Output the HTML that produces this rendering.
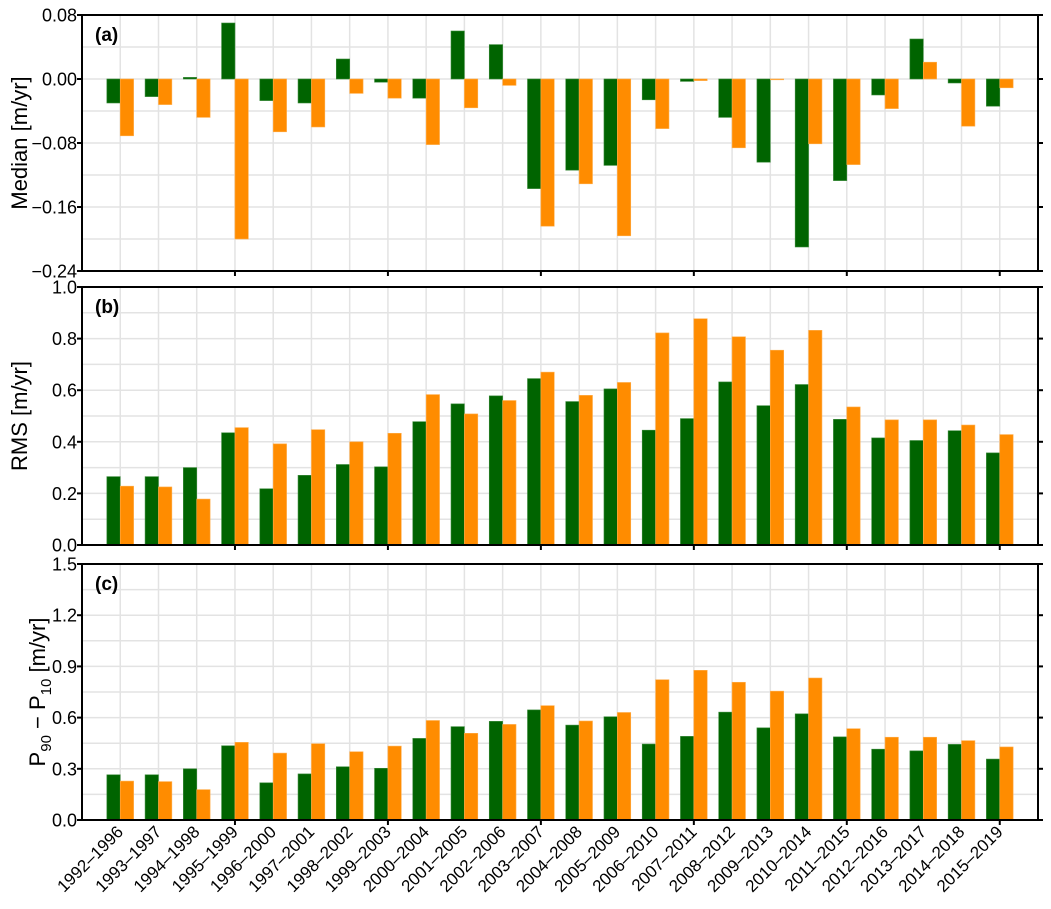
<!DOCTYPE html>
<html><head><meta charset="utf-8"><style>
html,body{margin:0;padding:0;background:#fff;}
svg{display:block;font-family:"Liberation Sans",Arial,sans-serif;}
</style></head><body>
<svg id="chart" width="1051" height="909" viewBox="0 0 1051 909" xmlns="http://www.w3.org/2000/svg"></svg>
<script>
const categories=["1992–1996","1993–1997","1994–1998","1995–1999","1996–2000","1997–2001","1998–2002","1999–2003","2000–2004","2001–2005","2002–2006","2003–2007","2004–2008","2005–2009","2006–2010","2007–2011","2008–2012","2009–2013","2010–2014","2011–2015","2012–2016","2013–2017","2014–2018","2015–2019"];
const medianGreen=[-0.030,-0.022,0.002,0.070,-0.027,-0.030,0.025,-0.004,-0.024,0.060,0.043,-0.137,-0.114,-0.108,-0.026,-0.003,-0.048,-0.104,-0.210,-0.127,-0.020,0.050,-0.005,-0.034];
const medianOrange=[-0.071,-0.032,-0.048,-0.200,-0.066,-0.060,-0.018,-0.024,-0.082,-0.036,-0.008,-0.184,-0.131,-0.196,-0.062,-0.002,-0.086,-0.001,-0.081,-0.107,-0.037,0.021,-0.059,-0.011];
const rmsGreen=[0.265,0.265,0.300,0.435,0.218,0.270,0.312,0.303,0.478,0.547,0.578,0.645,0.556,0.605,0.445,0.490,0.632,0.540,0.622,0.487,0.415,0.405,0.443,0.357];
const rmsOrange=[0.228,0.225,0.178,0.455,0.392,0.447,0.400,0.433,0.583,0.508,0.560,0.670,0.580,0.630,0.822,0.877,0.807,0.755,0.832,0.535,0.485,0.485,0.465,0.428];
const pGreen=[0.265,0.265,0.300,0.435,0.218,0.270,0.312,0.303,0.478,0.547,0.578,0.645,0.556,0.605,0.445,0.490,0.632,0.540,0.622,0.487,0.415,0.405,0.443,0.357];
const pOrange=[0.228,0.225,0.178,0.455,0.392,0.447,0.400,0.433,0.583,0.508,0.560,0.670,0.580,0.630,0.822,0.877,0.807,0.755,0.832,0.535,0.485,0.485,0.465,0.428];
const ticksA=["0.08","0.00","−0.08","−0.16","−0.24"];
const ticksB=["0.0","0.2","0.4","0.6","0.8","1.0"];
const ticksC=["0.0","0.3","0.6","0.9","1.2","1.5"];

const NS="http://www.w3.org/2000/svg";
const svg=document.getElementById('chart');
const L=82,R=1038,N=categories.length;
const step=(R-L)/(N+1);
function xc(i){return L+(i+1)*step;}
function mk(tag,attrs,parent){const e=document.createElementNS(NS,tag);for(const k in attrs)e.setAttribute(k,attrs[k]);(parent||svg).appendChild(e);return e;}

const panels=[
 {id:'a',top:15,bot:271,min:-0.24,max:0.08,major:0.08,g:medianGreen,o:medianOrange,ticks:ticksA,title:'Median [m/yr]'},
 {id:'b',top:287,bot:545,min:0,max:1.0,major:0.2,g:rmsGreen,o:rmsOrange,ticks:ticksB,title:'RMS [m/yr]'},
 {id:'c',top:564,bot:820,min:0,max:1.5,major:0.3,g:pGreen,o:pOrange,ticks:ticksC,title:null}
];
panels.forEach(p=>{
 const grp=mk('g',{});
 
 
 const y=v=>p.bot-(v-p.min)/(p.max-p.min)*(p.bot-p.top);
 const nMinor=Math.round((p.max-p.min)/(p.major/2));
 for(let k=1;k<nMinor;k++){const v=p.min+k*p.major/2;const l=mk('line',{x1:L,x2:R,y1:y(v),y2:y(v),stroke:'#e3e3e3','stroke-width':1.5},grp);}
 for(let i=0;i<N;i++){const l=mk('line',{x1:xc(i),x2:xc(i),y1:p.top,y2:p.bot,stroke:'#e3e3e3','stroke-width':1.5},grp);}
 const bw=step*0.35, y0=y(Math.max(0,p.min));
 for(let i=0;i<N;i++){
  const gv=p.g[i],ov=p.o[i];
  const gb=mk('rect',{x:xc(i)-bw,y:Math.min(y(gv),y0),width:bw,height:Math.max(0.8,Math.abs(y(gv)-y0)),fill:'#006400',stroke:'#3a8a3a','stroke-width':0.6},grp);
  
  
  const ob=mk('rect',{x:xc(i),y:Math.min(y(ov),y0),width:bw,height:Math.max(0.8,Math.abs(y(ov)-y0)),fill:'#ff8c00',stroke:'#ffae4d','stroke-width':0.6},grp);
  
  
 }
 const fr=mk('rect',{x:L,y:p.top,width:R-L,height:p.bot-p.top,fill:'none',stroke:'#000','stroke-width':2},grp);
 
 
 p.ticks.forEach(t=>{
  const v=parseFloat(t.replace('−','-'));
  mk('line',{x1:L-5,x2:L,y1:y(v),y2:y(v),stroke:'#000','stroke-width':2},grp);
  mk('line',{x1:R,x2:R+5,y1:y(v),y2:y(v),stroke:'#000','stroke-width':2},grp);
  const tx=mk('text',{x:L-5,y:y(v)+6.5,'text-anchor':'end','font-size':18,fill:'#000'},grp);
  tx.textContent=t;
  
  
 });
 for(let i=3;i<N;i+=4){mk('line',{x1:xc(i),x2:xc(i),y1:p.bot,y2:p.bot+5,stroke:'#000','stroke-width':2},grp);}
 const pl=mk('text',{x:95,y:p.top+26,'font-size':19,'font-weight':'bold',fill:'#000'},grp);
 pl.textContent='('+p.id+')';
 
 
 const cy=(p.top+p.bot)/2;
 if(p.title){
  const t=mk('text',{x:0,y:0,transform:`translate(27,${cy}) rotate(-90)`,'text-anchor':'middle','font-size':22,fill:'#000'},grp);
  t.textContent=p.title;
  
  
 } else {
  const t=mk('text',{x:0,y:0,transform:`translate(45,${cy}) rotate(-90)`,'text-anchor':'middle','font-size':22,fill:'#000'},grp);
  t.innerHTML='P<tspan font-size="15" dy="6">90</tspan><tspan dy="-6"> − P</tspan><tspan font-size="15" dy="6">10</tspan><tspan dy="-6"> [m/yr]</tspan>';
  
  
 }
});
categories.forEach((c,i)=>{
 const t=mk('text',{x:0,y:0,transform:`translate(${xc(i)+4},${833}) rotate(-45)`,'text-anchor':'end','font-size':17,fill:'#000'});
 t.textContent=c;
 
 
});
</script>
</body></html>
